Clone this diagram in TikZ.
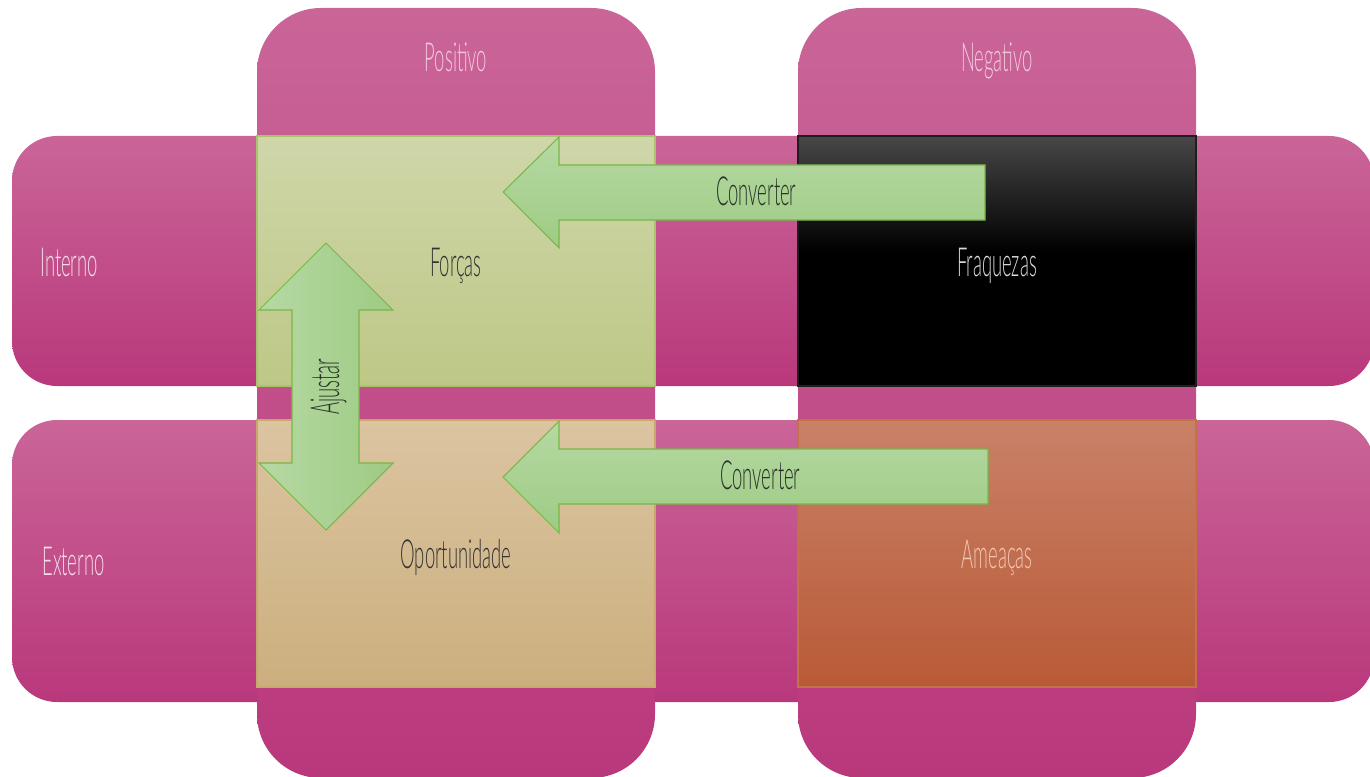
\documentclass[tikz,border=0pt]{standalone}
\usepackage{fontspec}
\newfontfamily\thinfont{Lato Light}[FakeStretch=0.46]
% band colours
\definecolor{pinkTop}{HTML}{CA6598}
\definecolor{pinkMid}{HTML}{C84A8C}
\definecolor{pinkBot}{HTML}{B9387C}
% arrows
\definecolor{arrowEdge}{HTML}{7AB648}
\definecolor{arrowLight}{HTML}{B6D9A3}
\definecolor{arrowDark}{HTML}{9ECB84}
% quadrants
\definecolor{strEdge}{HTML}{A9C46C}
\definecolor{strTop}{HTML}{CFD6A9}
\definecolor{strBot}{HTML}{BDC886}
\definecolor{weakEdge}{HTML}{1E1E1E}
\definecolor{weakTop}{HTML}{474747}
\definecolor{oppEdge}{HTML}{C9A86C}
\definecolor{oppTop}{HTML}{DBC4A1}
\definecolor{oppBot}{HTML}{CCAF7E}
\definecolor{thrEdge}{HTML}{C27246}
\definecolor{thrTop}{HTML}{C98168}
\definecolor{thrMid}{HTML}{C76A45}
\definecolor{thrBot}{HTML}{B95A36}
% text
\definecolor{headTxt}{HTML}{F3C9DC}
\definecolor{sideTxt}{HTML}{F8DDEA}
\definecolor{darkTxt}{HTML}{333333}
\definecolor{greyTxt}{HTML}{DADADA}
\definecolor{peachTxt}{HTML}{F4C6B4}
\definecolor{arrowTxt}{HTML}{263326}
\begin{document}
\begin{tikzpicture}[x=0.02cm,y=-0.02cm,
  txt/.style={font=\thinfont\fontsize{22.8}{27}\selectfont, inner sep=0pt},
  bandshade/.style={top color=pinkTop, middle color=pinkMid, bottom color=pinkBot},
  rowband/.style={bandshade, rounded corners=0.9cm},
  colband/.style={bandshade, rounded corners=1.28cm},
  cell/.style={line width=0.6pt},
  arrowbody/.style={draw=arrowEdge, line width=0.6pt, line join=miter}]
\useasboundingbox (0,0) rectangle (1370,777);
\begin{scope}
  \clip (0,0) rectangle (1370,777);
  % horizontal bands: internal / external
  \shade[rowband] (12,136) rectangle (1374,386);
  \shade[rowband] (12,420) rectangle (1374,702);
  % vertical bands: positive / negative
  \shade[colband] (257,8) rectangle (655,778);
  \shade[colband] (798,8) rectangle (1196,778);
\end{scope}

% the four quadrants
\shadedraw[cell, draw=strEdge, top color=strTop, bottom color=strBot]
  (257,136) rectangle (655,386);
% weaknesses: dark grey fading to black by mid-height
\fill[black] (798,136) rectangle (1196,386);
\shade[top color=weakTop, bottom color=black] (798,136) rectangle (1196,252);
\draw[cell, draw=weakEdge] (798,136) rectangle (1196,386);
\shadedraw[cell, draw=oppEdge, top color=oppTop, bottom color=oppBot]
  (257,420) rectangle (655,687);
\shadedraw[cell, draw=thrEdge, top color=thrTop, middle color=thrMid, bottom color=thrBot]
  (798,420) rectangle (1196,687);

% conversion arrows (pointing left)
\shade[arrowbody, top color=arrowLight, bottom color=arrowDark]
  (503,192) -- (559,137) -- (559,165) -- (985,165) -- (985,220) -- (559,220) -- (559,248) -- cycle;
\shade[arrowbody, top color=arrowLight, bottom color=arrowDark]
  (503,477) -- (559,421) -- (559,449) -- (988,449) -- (988,504) -- (559,504) -- (559,533) -- cycle;

% adjustment double arrow
\shade[arrowbody, left color=arrowLight, right color=arrowDark]
  (326,243) -- (393,310) -- (359,310) -- (359,463) -- (393,463) -- (326,530)
  -- (259,463) -- (292,463) -- (292,310) -- (259,310) -- cycle;

% labels
\node[txt, text=headTxt, anchor=base] (pos) at (456,72) {Positivo};
\node[txt, text=headTxt, anchor=base] (neg) at (997,72) {Negativo};
\node[txt, text=sideTxt, anchor=base west] (int) at (40,276) {Interno};
\node[txt, text=sideTxt, anchor=base west] (ext) at (42,575) {Externo};
\node[txt, text=darkTxt, anchor=base] (forcas) at (456,276) {Forças};
\node[txt, text=greyTxt, anchor=base] (fraq) at (997,276) {Fraquezas};
\node[txt, text=darkTxt, anchor=base] (oport) at (456,568) {Oportunidade};
\node[txt, text=peachTxt, anchor=base] (ameac) at (997,568) {Ameaças};
\node[txt, text=arrowTxt, anchor=base west] (conv1) at (716,205) {Converter};
\node[txt, text=arrowTxt, anchor=base west] (conv2) at (720,489) {Converter};
\node[txt, text=arrowTxt, anchor=base, rotate=90] (ajust) at (339,387) {Ajustar};
\end{tikzpicture}
\end{document}
